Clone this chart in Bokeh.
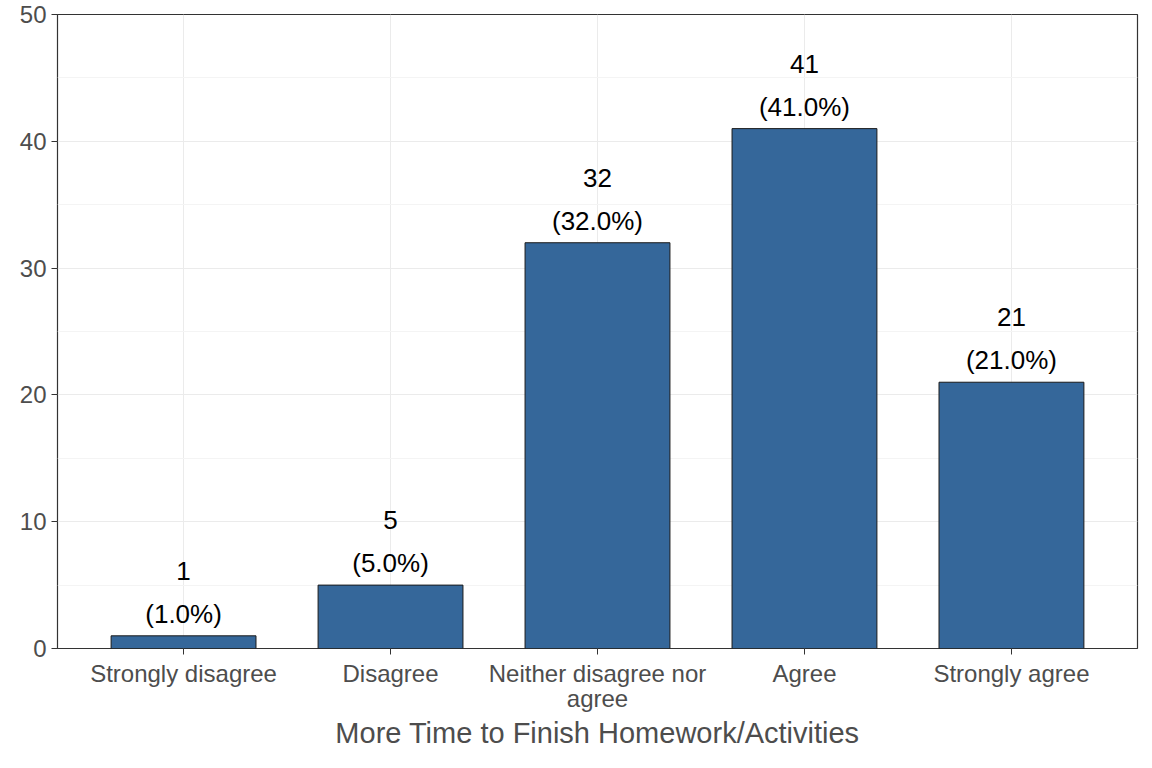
from bokeh.plotting import figure
from bokeh.models import Range1d, FixedTicker, ColumnDataSource
from bokeh.embed import file_html
from bokeh.resources import INLINE
from bokeh.core.properties import value

categories = ["Strongly disagree", "Disagree", "Neither disagree nor\nagree", "Agree", "Strongly agree"]
counts = [1, 5, 32, 41, 21]
total = sum(counts)
xs = list(range(1, len(categories) + 1))
cnt_lbl = [str(c) for c in counts]
pct_lbl = ["(%.1f%%)" % (100 * c / total) for c in counts]

src = ColumnDataSource(dict(x=xs, y=counts, c=cnt_lbl, p=pct_lbl))

p = figure(width=1144, height=752, output_backend="svg", toolbar_location=None,
           x_range=Range1d(0.391, 5.609), y_range=Range1d(0, 50),
           min_border_left=57, min_border_top=14, min_border_right=7, min_border_bottom=100)
p.vbar(x="x", top="y", width=0.7, source=src, fill_color="#35679A", line_color="#1a1a1a", line_width=1)
p.text(x="x", y="y", text="p", source=src, y_offset=-22, text_align="center", text_baseline="middle",
       text_font=value("Arial"), text_font_size="26px", text_color="black")
p.text(x="x", y="y", text="c", source=src, y_offset=-65, text_align="center", text_baseline="middle",
       text_font=value("Arial"), text_font_size="26px", text_color="black")

p.xaxis.ticker = FixedTicker(ticks=xs)
p.xaxis.major_label_overrides = {i: c for i, c in zip(xs, categories)}
p.yaxis.ticker = FixedTicker(ticks=[0, 10, 20, 30, 40, 50], minor_ticks=[5, 15, 25, 35, 45])
for ax in (p.xaxis, p.yaxis):
    ax.major_label_text_font = "Arial"
    ax.major_label_text_font_size = "24px"
    ax.major_label_text_color = "#4d4d4d"
    ax.axis_line_color = None
    ax.major_tick_line_color = "#333333"
    ax.major_tick_out = 6
    ax.major_tick_in = 0
    ax.minor_tick_line_color = None
p.xaxis.major_label_text_line_height = 0.95
p.xaxis.axis_label = "More Time to Finish Homework/Activities"
p.xaxis.axis_label_text_font = "Arial"
p.xaxis.axis_label_text_font_style = "normal"
p.xaxis.axis_label_text_font_size = "29px"
p.xaxis.axis_label_text_color = "#4d4d4d"
p.xaxis.axis_label_standoff = 2
p.xgrid.grid_line_color = "#ebebeb"
p.ygrid.grid_line_color = "#ebebeb"
p.ygrid.minor_grid_line_color = "#f4f4f4"
p.outline_line_color = "#333333"
p.outline_line_width = 1.2
p.background_fill_color = "white"

open("out.html", "w").write(file_html(p, INLINE))
